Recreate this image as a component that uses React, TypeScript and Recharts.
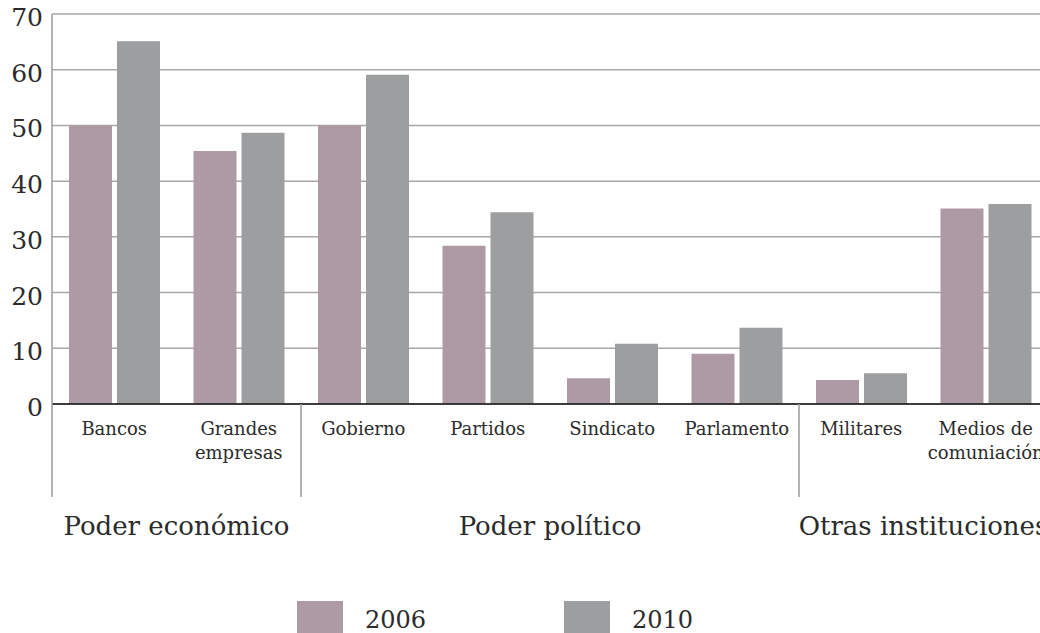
import React from 'react';
import { BarChart, Bar, XAxis, YAxis, CartesianGrid, Legend } from 'recharts';

const categories = ['Bancos', 'Grandes\nempresas', 'Gobierno', 'Partidos', 'Sindicato', 'Parlamento', 'Militares', 'Medios de\ncomuniación'];
const values2006 = [50, 45.4, 50, 28.4, 4.6, 9, 4.3, 35.1];
const values2010 = [65.1, 48.7, 59.1, 34.4, 10.8, 13.7, 5.5, 35.9];
const yTicks = [0, 10, 20, 30, 40, 50, 60, 70];
const groupNames = ['Poder económico', 'Poder político', 'Otras instituciones'];
const groupSizes = [2, 4, 2];
const seriesNames = ['2006', '2010'];

const COLOR_2006 = '#ae9aa4';
const COLOR_2010 = '#9d9ea0';
const FONT = '"DejaVu Serif", serif';
const TEXT = '#2b2b2b';

const data = categories.map((c, i) => ({ name: c, v2006: values2006[i], v2010: values2010[i] }));

const groupStarts: number[] = [];
{
  let s = 0;
  groupSizes.forEach((n) => {
    groupStarts.push(s);
    s += n;
  });
}

const XTick = (props: any) => {
  const { x, y, payload, index, width } = props;
  const half = payload && typeof payload.offset === 'number' && payload.offset > 0 ? payload.offset : width / categories.length / 2;
  const lines = String(payload.value).split('\n');
  const gi = groupStarts.indexOf(index);
  return (
    <g>
      <text x={x} y={y + 31} textAnchor="middle" fontFamily={FONT} fontSize={18} fill={TEXT}>
        {lines.map((l, k) => (
          <tspan key={k} x={x} dy={k === 0 ? 0 : 24}>{l}</tspan>
        ))}
      </text>
      {gi >= 0 && (
        <g>
          <line x1={x - half} x2={x - half} y1={y} y2={y + 93} stroke="#9a9a9a" strokeWidth={1.5} />
          <text x={x - half + groupSizes[gi] * half} y={y + 131} textAnchor="middle" fontFamily={FONT} fontSize={26} fill={TEXT}>
            {groupNames[gi]}
          </text>
        </g>
      )}
    </g>
  );
};

const YTick = (props: any) => {
  const { x, y, payload } = props;
  return (
    <text x={x} y={y + 12} textAnchor="end" fontFamily={FONT} fontSize={25} fill={TEXT}>
      {payload.value}
    </text>
  );
};

const LegendContent = () => {
  const colors = [COLOR_2006, COLOR_2010];
  return (
    <div style={{ position: 'relative', height: 32, width: 1040 }}>
      {seriesNames.map((n, i) => (
        <div key={n} style={{ position: 'absolute', left: 297 + i * 267, top: 0, display: 'flex', alignItems: 'flex-start' }}>
          <div style={{ width: 46, height: 32, background: colors[i] }} />
          <span style={{ marginLeft: 22, marginTop: 7, fontFamily: FONT, fontSize: 24, color: TEXT, lineHeight: '24px' }}>{n}</span>
        </div>
      ))}
    </div>
  );
};

export default function App() {
  return (
    <div style={{ position: 'absolute', left: 0, top: 0, width: 1040, height: 633, overflow: 'hidden', background: '#fff' }}>
      <BarChart
        width={1060}
        height={633}
        data={data}
        margin={{ top: 14, right: 12, left: 0, bottom: 47 }}
        barSize={43}
        barGap={5}
      >
        <CartesianGrid vertical={false} stroke="#a8a8a8" strokeWidth={1.5} />
        <XAxis
          dataKey="name"
          interval={0}
          height={150}
          tickSize={0}
          tickMargin={0}
          tickLine={false}
          axisLine={{ stroke: '#111', strokeWidth: 1.5 }}
          tick={<XTick />}
        />
        <YAxis
          domain={[0, 70]}
          ticks={yTicks}
          width={52}
          tickLine={false}
          tickSize={0}
          tickMargin={9}
          axisLine={{ stroke: '#9a9a9a', strokeWidth: 1.5 }}
          tick={<YTick />}
          interval={0}
        />
        <Legend
          verticalAlign="bottom"
          height={32}
          content={<LegendContent />}
          wrapperStyle={{ top: 601, bottom: 'auto', left: 0, width: 1040 }}
        />
        <Bar dataKey="v2006" name={seriesNames[0]} fill={COLOR_2006} isAnimationActive={false} />
        <Bar dataKey="v2010" name={seriesNames[1]} fill={COLOR_2010} isAnimationActive={false} />
      </BarChart>
    </div>
  );
}
